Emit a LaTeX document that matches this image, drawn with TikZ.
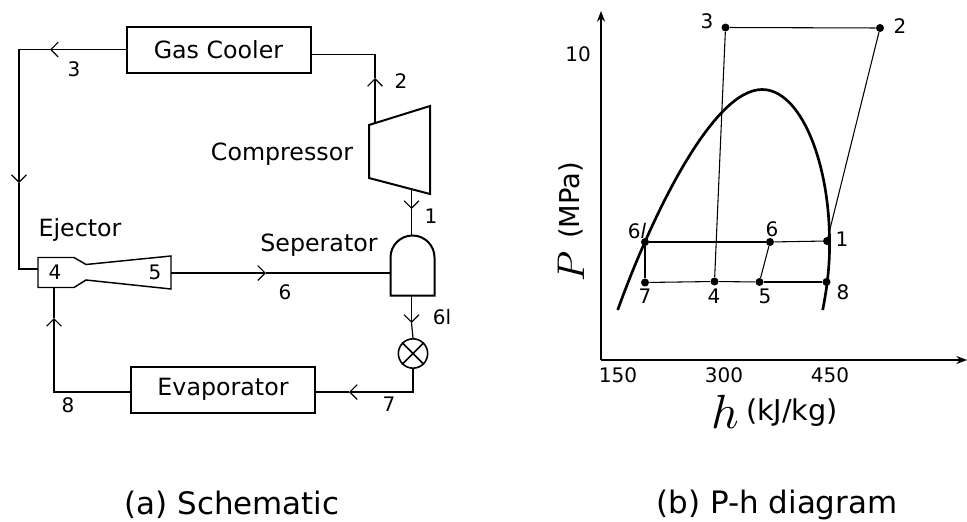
\documentclass[tikz,border=0pt]{standalone}
\usepackage{fontspec}
\usepackage{graphicx}
\setmainfont{DejaVu Sans}
\usetikzlibrary{arrows.meta}
\tikzset{
    pipeline/.style={line width=0.9pt, line join=miter},
    flowline/.style={pipeline, -{Straight Barb[length=5.5pt,width=11pt,line width=0.9pt]}},
    unitline/.style={line width=1.5pt, line join=miter},
    hxbox/.style={draw, unitline, minimum width=138pt, minimum height=34.5pt, inner sep=0pt, font=\fontsize{17.8}{20}\selectfont},
    unitname/.style={font=\fontsize{17.8}{20}\selectfont},
    numlabel/.style={font=\fontsize{15}{17}\selectfont},
    caption/.style={font=\fontsize{23.2}{26}\selectfont},
    statept/.style={circle, fill=black, inner sep=0pt, minimum size=6pt},
    cycleline/.style={line width=0.8pt},
}
\begin{document}
\begin{tikzpicture}[x=0.75pt, y=-0.75pt]
    \path[use as bounding box] (0,0) rectangle (967,521) ;

    % schematic
    \node[hxbox] (cooler) at (218.5,49.5) {Gas Cooler} ;
    \node[hxbox] (evap) at (223,389.5) {Evaporator} ;
    \draw[unitline] (369,125) -- (430,106) -- (430,194) -- (369,178) -- cycle ;
    \draw[unitline] (390.5,295.5) -- (390.5,257.5) arc (180:360:22) -- (434.5,295.5) -- cycle ;
    \draw[line width=1.1pt, line join=miter] (38,257.5) -- (74,257.5) -- (86,264.5) -- (171,256) -- (171,289) -- (86,280) -- (74,287.5) -- (38,287.5) -- cycle ;
    \node[draw, circle, line width=1.2pt, minimum size=22pt, inner sep=0pt] (valve) at (413,353.5) {} ;
    \draw[line width=1.2pt] (valve.north west) -- (valve.south east) (valve.north east) -- (valve.south west) ;

    \coordinate (compin) at (375,123) ;
    \coordinate (coolerl) at (126,49.5) ;
    \coordinate (coolerr) at (311,54.5) ;
    \coordinate (corner3) at (19,49.5) ;
    \coordinate (corner4) at (19,269) ;
    \coordinate (ejin) at (38,269) ;
    \coordinate (corner2) at (375,54.5) ;
    \coordinate (compout) at (411.5,190) ;
    \coordinate (septop) at (411.5,235.5) ;
    \coordinate (ejout) at (171,273) ;
    \coordinate (sepin) at (390.5,273) ;
    \coordinate (sepbot) at (411.5,296) ;
    \coordinate (corner7) at (413,392) ;
    \coordinate (evapr) at (316,392) ;
    \coordinate (evapl) at (130,392) ;
    \coordinate (corner8) at (54,392) ;
    \coordinate (ejbot) at (54,288) ;

    \coordinate (tip3) at (50,49.5) ;
    \coordinate (tip4) at (19,183) ;
    \coordinate (tip2) at (375,78) ;
    \coordinate (tip1) at (411.5,209) ;
    \coordinate (tip6) at (266,273) ;
    \coordinate (tip6l) at (411.5,323) ;
    \coordinate (tip7) at (349,392) ;
    \coordinate (tip8) at (54,318) ;

    \draw[flowline] (coolerl) -- (tip3) ;
    \draw[flowline] (tip3) -- (corner3) -- (tip4) ;
    \draw[pipeline] (tip4) -- (corner4) -- (ejin) ;
    \draw[flowline] (compin) -- (tip2) ;
    \draw[pipeline] (tip2) -- (corner2) -- (coolerr) ;
    \draw[flowline] (compout) -- (tip1) ;
    \draw[pipeline] (tip1) -- (septop) ;
    \draw[flowline] (ejout) -- (tip6) ;
    \draw[pipeline] (tip6) -- (sepin) ;
    \draw[flowline] (sepbot) -- (tip6l) ;
    \draw[pipeline] (tip6l) -- (valve.north) ;
    \draw[flowline] (valve.south) -- (corner7) -- (tip7) ;
    \draw[pipeline] (tip7) -- (evapr) ;
    \draw[flowline] (evapl) -- (corner8) -- (tip8) ;
    \draw[pipeline] (tip8) -- (ejbot) ;

    \node[unitname] (ejector) at (80,230) {Ejector} ;
    \node[unitname] (compressor) at (282,154) {Compressor} ;
    \node[unitname] (seperator) at (319,245) {Seperator} ;
    \node[numlabel] (s3) at (74,69) {3} ;
    \node[numlabel] (s2) at (401,81) {2} ;
    \node[numlabel] (s1) at (431,216) {1} ;
    \node[numlabel] (s4) at (55,272) {4} ;
    \node[numlabel] (s5) at (155,272) {5} ;
    \node[numlabel] (s6) at (285,292) {6} ;
    \node[numlabel] (s6l) at (442,317) {6l} ;
    \node[numlabel] (s7) at (389,404) {7} ;
    \node[numlabel] (s8) at (68,405) {8} ;
    \node[caption] (capa) at (232,504.5) {(a) Schematic} ;

    % P-h diagram
    \coordinate (orig) at (601,360) ;
    \coordinate (ytop) at (601,11) ;
    \coordinate (xend) at (967,360) ;
    \draw[line width=1pt, -{Stealth[length=8pt,width=6pt]}] (orig) -- (ytop) ;
    \draw[line width=1pt, -{Stealth[length=8pt,width=6pt]}] (orig) -- (xend) ;

    \draw[line width=2pt] (617.7,310) .. controls (650,220) and (712,89.5) .. (762,89.5) .. controls (800,89.5) and (829,160) .. (829.5,240) .. controls (830,265) and (827,288) .. (822.7,310) ;

    \node[statept] (p1) at (827,241) {} ;
    \node[statept] (p2) at (880,28) {} ;
    \node[statept] (p3) at (725.5,27.5) {} ;
    \node[statept] (p4) at (714.5,281.5) {} ;
    \node[statept] (p5) at (759.5,282) {} ;
    \node[statept] (p6) at (770,242) {} ;
    \node[statept] (p6l) at (645,242) {} ;
    \node[statept] (p7) at (645,282.5) {} ;
    \node[statept] (p8) at (826.5,282) {} ;

    \draw[cycleline] (p3) -- (p2) ;
    \draw[cycleline] (p2) -- (p1) ;
    \draw[cycleline] (p3) -- (p4) ;
    \draw[cycleline] (p6l) -- (p6) ;
    \draw[cycleline] (p6) -- (p1) ;
    \draw[cycleline] (p6l) -- (p7) ;
    \draw[cycleline] (p7) -- (p4) ;
    \draw[cycleline] (p4) -- (p5) ;
    \draw[cycleline] (p5) -- (p8) ;
    \draw[cycleline] (p5) -- (p6) ;

    \node[numlabel] (l3) at (707,21) {3} ;
    \node[numlabel] (l2) at (900,26) {2} ;
    \node[numlabel] (l1) at (842,239) {1} ;
    \node[numlabel] (l6) at (772,229) {6} ;
    \node[numlabel] (l6l) at (637,231) {6\textit{l}} ;
    \node[numlabel] (l7) at (645,296) {7} ;
    \node[numlabel] (l4) at (714,296) {4} ;
    \node[numlabel] (l5) at (765,296) {5} ;
    \node[numlabel] (l8) at (843,292) {8} ;
    \node[numlabel] (t10) at (578,54) {10} ;
    \node[numlabel] (t150) at (618,375) {150} ;
    \node[numlabel] (t300) at (724,375) {300} ;
    \node[numlabel] (t450) at (830,375) {450} ;
    \node[inner sep=0pt] (hsym) at (725,412) {\scalebox{3.6}{$h$}} ;
    \node[font=\fontsize{21.5}{24}\selectfont, inner sep=0pt] (xunit) at (792,413) {(kJ/kg)} ;
    \node[inner sep=0pt, rotate=90] (psym) at (571,266) {\scalebox{2.9}{$P$}} ;
    \node[font=\fontsize{20.5}{24}\selectfont, inner sep=0pt, rotate=90] (yunit) at (571,200.5) {(MPa)} ;
    \node[caption] (capb) at (777,504.5) {(b) P-h diagram} ;
\end{tikzpicture}
\end{document}
